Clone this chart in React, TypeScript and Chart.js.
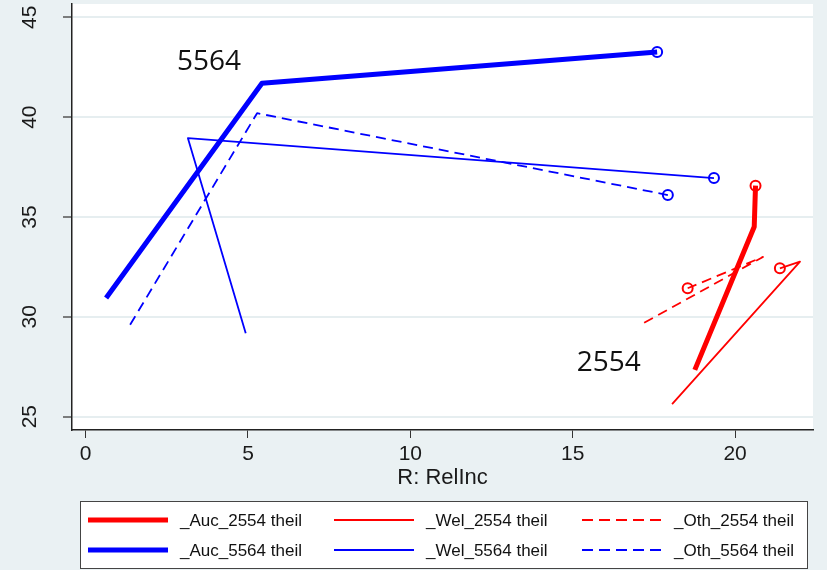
import React, { useEffect, useRef } from 'react';
import { Chart, registerables } from 'chart.js';

Chart.register(...registerables);

const xTicks = [0, 5, 10, 15, 20];
const yTicks = [25, 30, 35, 40, 45];

const seriesLabels = [
  '_Auc_2554 theil',
  '_Wel_2554 theil',
  '_Oth_2554 theil',
  '_Auc_5564 theil',
  '_Wel_5564 theil',
  '_Oth_5564 theil',
];

const auc2554X = [18.76, 20.59, 20.63];
const auc2554Y = [27.34, 34.51, 36.57];
const wel2554X = [18.06, 22.0, 21.38];
const wel2554Y = [25.63, 32.76, 32.43];
const oth2554X = [17.2, 20.86, 18.54];
const oth2554Y = [29.7, 33.0, 31.43];
const auc5564X = [0.63, 5.43, 17.6];
const auc5564Y = [30.94, 41.7, 43.26];
const wel5564X = [4.93, 3.15, 19.35];
const wel5564Y = [29.18, 38.95, 36.95];
const oth5564X = [1.37, 5.28, 17.93];
const oth5564Y = [29.6, 40.2, 36.1];

const groupLabels = ['5564', '2554'];
const groupLabelX = [3.8, 16.11];
const groupLabelY = [42.76, 27.69];

const BG = '#eaf1f3';

const toPoints = (xs: number[], ys: number[]) => xs.map((x, i) => ({ x, y: ys[i] }));

const makeSet = (label: string, xs: number[], ys: number[], color: string, width: number, dash: number[]) => ({
  label,
  data: toPoints(xs, ys),
  showLine: true,
  borderColor: color,
  borderWidth: width,
  borderDash: dash,
  borderJoinStyle: 'round' as const,
  backgroundColor: 'rgba(0,0,0,0)',
  pointBorderColor: color,
  pointBackgroundColor: 'rgba(0,0,0,0)',
  pointBorderWidth: 2,
  pointRadius: (ctx: any) => (ctx.dataIndex === xs.length - 1 ? 5 : 0),
  fill: false,
});

const backdrop = {
  id: 'backdrop',
  beforeDraw(chart: any) {
    const { ctx, chartArea } = chart;
    ctx.save();
    ctx.fillStyle = BG;
    ctx.fillRect(0, 0, chart.width, chart.height);
    ctx.fillStyle = '#ffffff';
    ctx.fillRect(chartArea.left, chartArea.top, chartArea.right - chartArea.left, chartArea.bottom - chartArea.top);
    ctx.restore();
  },
};

const extras = {
  id: 'extras',
  afterDraw(chart: any) {
    const { ctx } = chart;
    const xs = chart.scales.x;
    const ys = chart.scales.y;
    ctx.save();
    // group labels
    ctx.fillStyle = '#111';
    ctx.font = '28px "Open Sans"';
    ctx.textAlign = 'center';
    ctx.textBaseline = 'middle';
    groupLabels.forEach((t, i) => {
      ctx.fillText(t, xs.getPixelForValue(groupLabelX[i]), ys.getPixelForValue(groupLabelY[i]));
    });

    // legend box
    ctx.fillStyle = '#ffffff';
    ctx.fillRect(80, 501, 727, 67);
    ctx.strokeStyle = '#444';
    ctx.lineWidth = 1;
    ctx.strokeRect(80.5, 501.5, 727, 67);

    const colStart = [88, 334, 582];
    const rowY = [520, 550];
    ctx.font = '17px "Liberation Sans"';
    ctx.textAlign = 'left';
    ctx.textBaseline = 'middle';
    chart.data.datasets.forEach((ds: any, i: number) => {
      const c = i % 3;
      const r = Math.floor(i / 3);
      const x0 = colStart[c];
      const y = rowY[r];
      ctx.strokeStyle = ds.borderColor;
      ctx.lineWidth = ds.borderWidth;
      ctx.setLineDash(ds.borderDash.length ? [11, 6] : []);
      ctx.beginPath();
      ctx.moveTo(x0, y);
      ctx.lineTo(x0 + 80, y);
      ctx.stroke();
      ctx.setLineDash([]);
      ctx.fillStyle = '#111';
      ctx.fillText(ds.label, x0 + 92, y + 1);
    });
    ctx.restore();
  },
};

export default function App() {
  const canvasRef = useRef<HTMLCanvasElement>(null);

  useEffect(() => {
    document.body.style.margin = '0';
    document.body.style.background = BG;
    if (!canvasRef.current) return;
    const chart = new Chart(canvasRef.current, {
      type: 'scatter',
      data: {
        datasets: [
          makeSet(seriesLabels[0], auc2554X, auc2554Y, '#ff0000', 5, []),
          makeSet(seriesLabels[1], wel2554X, wel2554Y, '#ff0000', 1.8, []),
          makeSet(seriesLabels[2], oth2554X, oth2554Y, '#ff0000', 1.8, [10, 6]),
          makeSet(seriesLabels[3], auc5564X, auc5564Y, '#0000ff', 5, []),
          makeSet(seriesLabels[4], wel5564X, wel5564Y, '#0000ff', 1.8, []),
          makeSet(seriesLabels[5], oth5564X, oth5564Y, '#0000ff', 1.8, [10, 6]),
        ],
      },
      options: {
        responsive: false,
        animation: false,
        events: [],
        layout: { autoPadding: false, padding: { left: 0, top: 4, right: 14, bottom: 79 } },
        plugins: {
          legend: { display: false },
          tooltip: { enabled: false },
        },
        scales: {
          x: {
            type: 'linear',
            min: -0.42,
            max: 22.4,
            afterBuildTicks: (s: any) => {
              s.ticks = xTicks.map((v) => ({ value: v }));
            },
            afterFit: (s: any) => {
              s.height = 61;
              s.paddingLeft = 0;
              s.paddingRight = 0;
            },
            grid: {
              drawOnChartArea: false,
              tickLength: 8,
              tickColor: '#333',
              tickWidth: 1,
            },
            border: { color: '#222', width: 1.5 },
            ticks: {
              color: '#1a1a1a',
              font: { family: '"Liberation Sans"', size: 21 },
              padding: 4,
              maxRotation: 0,
            },
            title: {
              display: true,
              text: 'R: RelInc',
              color: '#1a1a1a',
              font: { family: '"Liberation Sans"', size: 22 },
              padding: 0,
            },
          },
          y: {
            type: 'linear',
            min: 24.33,
            max: 45.67,
            afterBuildTicks: (s: any) => {
              s.ticks = yTicks.map((v) => ({ value: v }));
            },
            afterFit: (s: any) => {
              s.width = 72;
              s.paddingTop = 0;
              s.paddingBottom = 0;
            },
            grid: {
              color: '#e6eef0',
              lineWidth: 2,
              tickLength: 9,
              tickColor: '#555',
              tickWidth: 1.5,
            },
            border: { color: '#222', width: 1.5 },
            ticks: {
              color: '#1a1a1a',
              font: { family: '"Liberation Sans"', size: 21 },
              minRotation: 90,
              maxRotation: 90,
              crossAlign: 'center',
              padding: 21,
            },
          },
        },
      },
      plugins: [backdrop, extras],
    } as any);
    return () => chart.destroy();
  }, []);

  return <canvas ref={canvasRef} width={827} height={570} />;
}
